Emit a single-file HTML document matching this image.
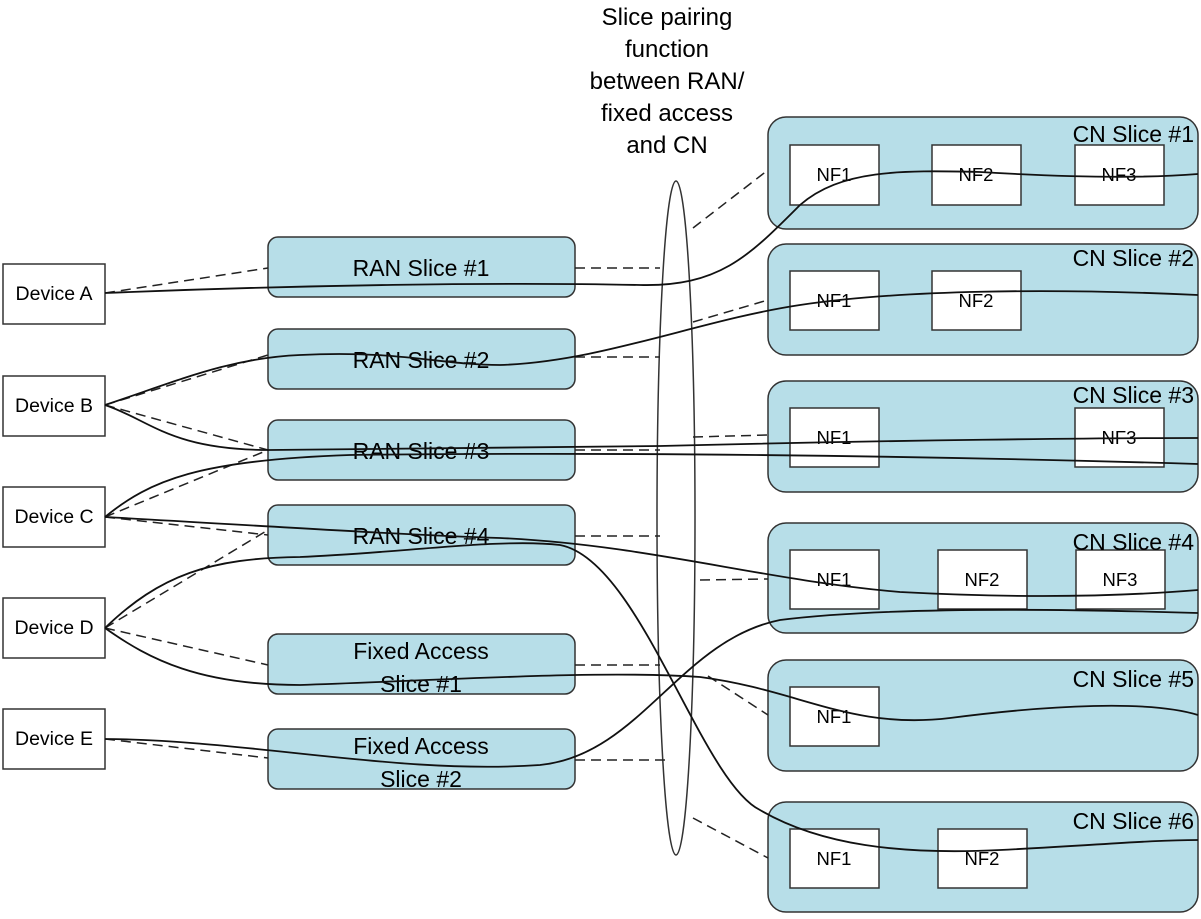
<!DOCTYPE html>
<html><head><style>
html,body{margin:0;padding:0;background:#fff;}
svg{display:block;}
text{font-family:"Liberation Sans","DejaVu Sans",sans-serif;fill:#000;}
</style></head><body>
<svg width="1201" height="919" viewBox="0 0 1201 919" xmlns="http://www.w3.org/2000/svg">
<g font-size="24" text-anchor="middle">
<text x="667" y="25">Slice pairing</text>
<text x="667" y="57">function</text>
<text x="667" y="89">between RAN/</text>
<text x="667" y="121">fixed access</text>
<text x="667" y="153">and CN</text>
</g>
<g fill="#b7dee8" stroke="#333" stroke-width="1.5">
<rect x="768" y="117" width="430" height="112" rx="18"/>
<rect x="768" y="244" width="430" height="111" rx="18"/>
<rect x="768" y="381" width="430" height="111" rx="18"/>
<rect x="768" y="523" width="430" height="110" rx="18"/>
<rect x="768" y="660" width="430" height="111" rx="18"/>
<rect x="768" y="802" width="430" height="110" rx="18"/>
<rect x="268" y="237" width="307" height="60" rx="10"/>
<rect x="268" y="329" width="307" height="60" rx="10"/>
<rect x="268" y="420" width="307" height="60" rx="10"/>
<rect x="268" y="505" width="307" height="60" rx="10"/>
<rect x="268" y="634" width="307" height="60" rx="10"/>
<rect x="268" y="729" width="307" height="60" rx="10"/>
</g>
<g fill="#fff" stroke="#333" stroke-width="1.5">
<rect x="3" y="264" width="102" height="60"/>
<rect x="3" y="376" width="102" height="60"/>
<rect x="3" y="487" width="102" height="60"/>
<rect x="3" y="598" width="102" height="60"/>
<rect x="3" y="709" width="102" height="60"/>
<rect x="790" y="145" width="89" height="60"/><rect x="932" y="145" width="89" height="60"/><rect x="1075" y="145" width="89" height="60"/>
<rect x="790" y="271" width="89" height="59"/><rect x="932" y="271" width="89" height="59"/>
<rect x="790" y="408" width="89" height="59"/><rect x="1075" y="408" width="89" height="59"/>
<rect x="790" y="550" width="89" height="59"/><rect x="938" y="550" width="89" height="59"/><rect x="1076" y="550" width="89" height="59"/>
<rect x="790" y="687" width="89" height="59"/>
<rect x="790" y="829" width="89" height="59"/><rect x="938" y="829" width="89" height="59"/>
</g>
<g font-size="19.5" text-anchor="middle">
<text x="54" y="300">Device A</text><text x="54" y="412">Device B</text><text x="54" y="523">Device C</text><text x="54" y="634">Device D</text><text x="54" y="745">Device E</text>
</g>
<g font-size="18.5" text-anchor="middle">
<text x="834" y="181">NF1</text><text x="976" y="181">NF2</text><text x="1119" y="181">NF3</text>
<text x="834" y="307">NF1</text><text x="976" y="307">NF2</text>
<text x="834" y="444">NF1</text><text x="1119" y="444">NF3</text>
<text x="834" y="586">NF1</text><text x="982" y="586">NF2</text><text x="1120" y="586">NF3</text>
<text x="834" y="723">NF1</text>
<text x="834" y="865">NF1</text><text x="982" y="865">NF2</text>
</g>
<g font-size="23" text-anchor="middle">
<text x="421" y="276">RAN Slice #1</text>
<text x="421" y="368">RAN Slice #2</text>
<text x="421" y="459">RAN Slice #3</text>
<text x="421" y="544">RAN Slice #4</text>
<text x="421" y="659">Fixed Access</text><text x="421" y="692">Slice #1</text>
<text x="421" y="754">Fixed Access</text><text x="421" y="787">Slice #2</text>
</g>
<g font-size="23" text-anchor="end">
<text x="1194" y="142">CN Slice #1</text>
<text x="1194" y="266">CN Slice #2</text>
<text x="1194" y="403">CN Slice #3</text>
<text x="1194" y="550">CN Slice #4</text>
<text x="1194" y="687">CN Slice #5</text>
<text x="1194" y="829">CN Slice #6</text>
</g>
<ellipse cx="676" cy="518" rx="19" ry="337" fill="none" stroke="#333" stroke-width="1.5"/>
<g fill="none" stroke="#222" stroke-width="1.5" stroke-dasharray="10,6">
<path d="M105,293 L268,268 M575,268 L660,268 M693,228 L768,170"/>
<path d="M105,405 L268,355 M105,405 L268,450 M105,517 L268,450 M105,517 L268,535 M105,628 L268,530 M105,628 L268,665 M105,739 L268,758"/>
<path d="M575,357 L660,357 M693,322 L768,300 M575,450 L660,450 M693,437 L768,435 M575,536 L660,536 M700,580 L768,579 M575,665 L660,665 M708,676 L768,715 M575,760 L665,760 M693,818 L768,858"/>
</g>
<g fill="none" stroke="#111" stroke-width="1.8">
<path d="M105,293 C300,285 500,282 640,285 C720,287 750,255 800,205 C840,170 900,170 980,172 C1080,178 1150,178 1198,174"/>
<path d="M105,405 C180,380 230,358 300,355 C400,350 440,365 500,365 C600,362 700,320 800,305 C900,290 1050,288 1198,295"/>
<path d="M105,405 C150,420 170,450 270,450 L660,446 C900,440 1100,438 1198,438"/>
<path d="M105,517 C150,480 200,460 350,455 C600,452 900,455 1198,464"/>
<path d="M105,517 C250,525 400,535 500,538 C650,545 760,580 900,592 C1050,600 1150,594 1198,590"/>
<path d="M105,628 C160,575 210,558 300,557 C400,553 500,538 560,545 C640,560 700,780 760,810 C820,845 900,855 1000,850 C1100,845 1150,840 1198,840"/>
<path d="M105,628 C150,660 200,685 300,685 C450,680 600,670 700,677 C800,690 850,730 950,718 C1050,705 1150,700 1198,715"/>
<path d="M105,739 C250,740 400,775 540,765 C640,755 680,640 780,620 C900,605 1100,610 1198,613"/>
</g>
</svg>
</body></html>
